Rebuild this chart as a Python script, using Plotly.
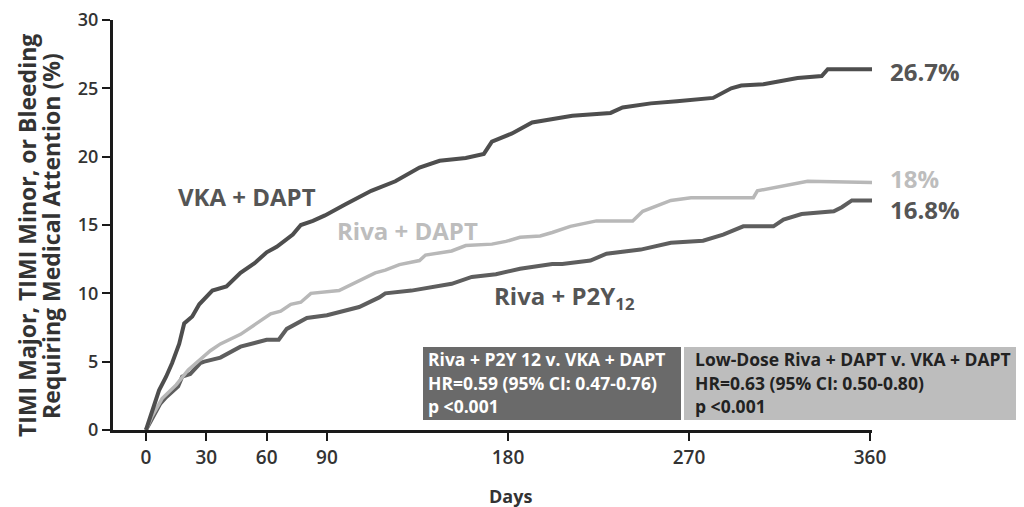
import plotly.graph_objects as go

# ---- data ----
vka_days = [0, 3, 6.5, 10, 13, 16.5, 19, 23, 26.5, 33, 40, 47, 54, 60, 65, 73, 77, 83, 89, 99, 112, 124, 136, 146, 159, 168, 172, 182, 192, 212, 226, 231, 237, 251, 264, 282, 291, 296, 307, 314, 324, 336, 339, 362]
vka_vals = [0, 1.4, 2.9, 3.9, 4.9, 6.3, 7.8, 8.3, 9.2, 10.2, 10.5, 11.5, 12.2, 13.0, 13.4, 14.3, 15.0, 15.3, 15.7, 16.5, 17.5, 18.2, 19.2, 19.7, 19.9, 20.2, 21.1, 21.7, 22.5, 23.0, 23.1, 23.2, 23.6, 23.9, 24.05, 24.3, 25.0, 25.2, 25.3, 25.5, 25.75, 25.9, 26.4, 26.4]

riva_dapt_days = [0, 3, 8, 15, 21, 28, 32, 37, 47, 55, 62, 67, 72, 77, 82, 96, 106, 114, 119, 126, 136, 139, 152, 159, 172, 179, 186, 196, 202, 211, 224, 242, 247, 257, 261, 271, 302, 304, 319, 329, 362]
riva_dapt_vals = [0, 1.0, 2.3, 3.3, 4.4, 5.3, 5.8, 6.3, 7.0, 7.8, 8.5, 8.7, 9.2, 9.35, 10.0, 10.2, 10.9, 11.5, 11.7, 12.1, 12.4, 12.8, 13.1, 13.5, 13.6, 13.8, 14.1, 14.2, 14.45, 14.9, 15.3, 15.3, 16.0, 16.6, 16.8, 17.0, 17.0, 17.5, 17.9, 18.2, 18.1]

riva_p2y_days = [0, 7, 10, 16, 18, 22, 27, 29, 37, 47, 60, 66, 70, 80, 90, 96, 106, 116, 119, 132, 149, 152, 162, 174, 186, 191, 202, 207, 221, 229, 241, 246, 261, 277, 287, 297, 312, 317, 326, 337, 342, 346, 351, 362]
riva_p2y_vals = [0, 1.9, 2.4, 3.2, 3.9, 4.1, 4.9, 5.0, 5.3, 6.1, 6.6, 6.6, 7.4, 8.2, 8.4, 8.6, 9.0, 9.7, 10.0, 10.2, 10.6, 10.7, 11.2, 11.4, 11.8, 11.9, 12.15, 12.15, 12.4, 12.9, 13.1, 13.2, 13.7, 13.85, 14.3, 14.9, 14.9, 15.4, 15.8, 15.9, 16.0, 16.3, 16.8, 16.8]

x_ticks = [0, 30, 60, 90, 180, 270, 360]
y_ticks = [0, 5, 10, 15, 20, 25, 30]

end_labels = ["26.7%", "18%", "16.8%"]
box1_lines = ["Riva + P2Y 12 v. VKA + DAPT", "HR=0.59 (95% CI: 0.47-0.76)", "p <0.001"]
box2_lines = ["Low-Dose Riva + DAPT v. VKA + DAPT", "HR=0.63 (95% CI: 0.50-0.80)", "p <0.001"]
y_title_lines = ["TIMI Major, TIMI Minor, or Bleeding", "Requiring Medical Attention (%)"]

# ---- styles ----
C_VKA = "#4e4e4e"
C_RD = "#b8b8b8"
C_RP = "#5e5e5e"
FONT = "Open Sans"

fig = go.Figure()
fig.add_trace(go.Scatter(x=riva_p2y_days, y=riva_p2y_vals, mode="lines",
                         line=dict(color=C_RP, width=4), showlegend=False))
fig.add_trace(go.Scatter(x=riva_dapt_days, y=riva_dapt_vals, mode="lines",
                         line=dict(color=C_RD, width=3.5), showlegend=False))
fig.add_trace(go.Scatter(x=vka_days, y=vka_vals, mode="lines",
                         line=dict(color=C_VKA, width=4), showlegend=False))

OFF = 8  # page body margin
W, H = 1024 - OFF, 507 - OFF
L, T = 113 - OFF, 20 - OFF
R = W - (872 - OFF)
B = H - (430 - OFF)
pw, ph = W - L - R, H - T - B

def px(xp):
    return (xp - OFF - L) / pw

def py(yp):
    return (H - B - (yp - OFF)) / ph

ann = []
# curve labels
ann.append(dict(x=50, y=17.1, xref="x", yref="y", text="VKA + DAPT", showarrow=False,
                font=dict(family=FONT, size=24, color="#555555", weight=700)))
ann.append(dict(x=130, y=14.6, xref="x", yref="y", text="Riva + DAPT", showarrow=False,
                font=dict(family=FONT, size=24, color="#bdbdbd", weight=700)))
ann.append(dict(x=208, y=9.7, xref="x", yref="y", text="Riva + P2Y<sub>12</sub>", showarrow=False,
                font=dict(family=FONT, size=24, color="#555555", weight=700)))
# end labels
for txt, yv, col in zip(end_labels, [26.2, 18.4, 16.1], ["#555555", "#bdbdbd", "#555555"]):
    ann.append(dict(x=px(888), y=yv, xref="paper", yref="y", text=txt, showarrow=False,
                    xanchor="left", font=dict(family=FONT, size=24, color=col, weight=700)))
# y title (two lines)
for txt, xp in zip(y_title_lines, [27, 51]):
    ann.append(dict(x=px(xp), y=py(236), xref="paper", yref="paper", text=txt,
                    showarrow=False, textangle=-90, xanchor="center", yanchor="middle",
                    font=dict(family=FONT, size=23, color="#333333", weight=700)))
# x title
ann.append(dict(x=px(510), y=py(496), xref="paper", yref="paper", text="Days",
                showarrow=False, xanchor="center", yanchor="middle",
                font=dict(family=FONT, size=18, color="#333333", weight=700)))

shapes = [
    dict(type="rect", xref="paper", yref="paper", x0=px(423), x1=px(681), y0=py(420), y1=py(347),
         fillcolor="#6a6a6a", line=dict(width=0), layer="above"),
    dict(type="rect", xref="paper", yref="paper", x0=px(684), x1=px(1024), y0=py(420), y1=py(347),
         fillcolor="#bdbdbd", line=dict(width=0), layer="above"),
]
line_ys = [359, 383, 406]
for txt, yp in zip(box1_lines, line_ys):
    ann.append(dict(x=px(426), y=py(yp), xref="paper", yref="paper", text=txt, showarrow=False,
                    xanchor="left", yanchor="middle",
                    font=dict(family=FONT, size=17.5, color="#ffffff", weight=700)))
for txt, yp in zip(box2_lines, line_ys):
    ann.append(dict(x=px(693), y=py(yp), xref="paper", yref="paper", text=txt, showarrow=False,
                    xanchor="left", yanchor="middle",
                    font=dict(family=FONT, size=17.5, color="#222222", weight=700)))

fig.update_layout(
    width=W, height=H,
    margin=dict(l=L, r=R, t=T, b=B),
    paper_bgcolor="white", plot_bgcolor="white",
    annotations=ann, shapes=shapes,
    xaxis=dict(range=[-16.4, 361], tickvals=x_ticks, showgrid=False, zeroline=False,
               showline=True, linecolor="#1a1a1a", linewidth=3, automargin=False,
               ticks="outside", ticklen=8, tickwidth=2, tickcolor="#1a1a1a",
               ticklabeloverflow="allow",
               tickfont=dict(family=FONT, size=19, color="#333333", weight=600)),
    yaxis=dict(range=[0, 30], tickvals=y_ticks, showgrid=False, zeroline=False,
               showline=True, linecolor="#1a1a1a", linewidth=3, automargin=False,
               ticks="outside", ticklen=8, tickwidth=2, tickcolor="#1a1a1a",
               ticklabeloverflow="allow",
               tickfont=dict(family=FONT, size=18, color="#333333", weight=600)),
)

fig.write_html("out.html")
